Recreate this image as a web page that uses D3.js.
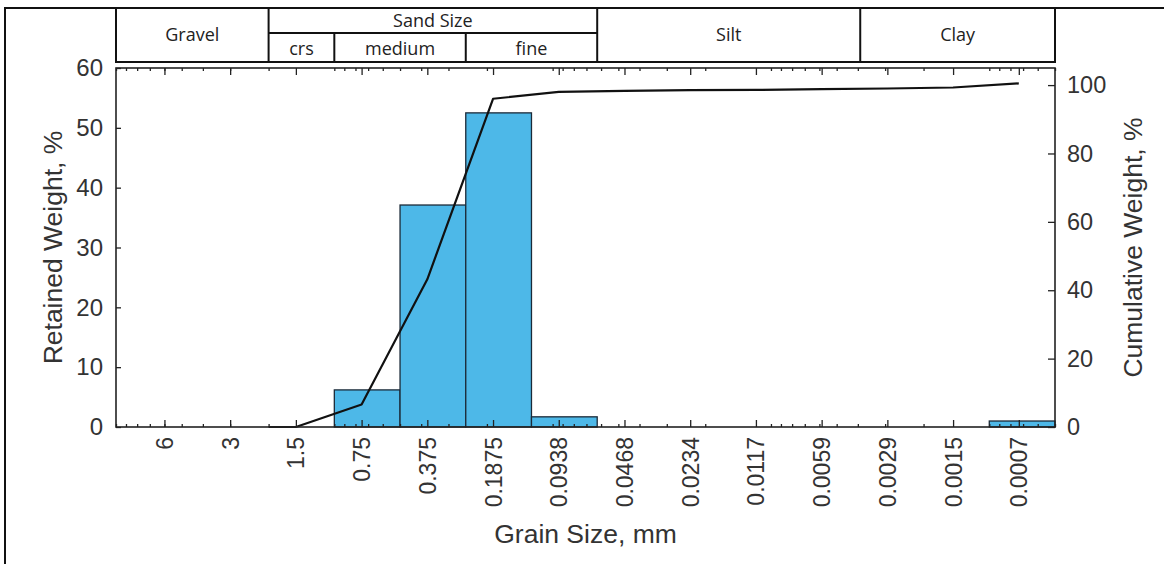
<!DOCTYPE html>
<html>
<head>
<meta charset="utf-8">
<script src="https://cdn.jsdelivr.net/npm/d3@7"></script>
<style>
  html, body { margin: 0; padding: 0; background: #fff; }
  svg { display: block; }
</style>
</head>
<body>
<svg id="chart" width="1164" height="564"></svg>
<script>
// ---------- data ----------
const grainSizes = [6, 3, 1.5, 0.75, 0.375, 0.1875, 0.09375, 0.046875, 0.0234375,
  0.01171875, 0.005859375, 0.0029296875, 0.00146484375, 0.000732421875];
const grainLabels = ["6", "3", "1.5", "0.75", "0.375", "0.1875", "0.0938", "0.0468",
  "0.0234", "0.0117", "0.0059", "0.0029", "0.0015", "0.0007"];

// retained weight bars (bin upper / lower size, mm)
const binUpper = [1, 0.5, 0.25, 0.125, 0.001];
const binLower = [0.5, 0.25, 0.125, 0.0625, 0.0005];
const retained = [6.2, 37.1, 52.5, 1.7, 1.0];

// cumulative weight curve
const cumSizes = [2, 1.5, 0.75, 0.375, 0.1875, 0.09375, 0.046875, 0.0234375,
  0.01171875, 0.005859375, 0.0029296875, 0.00146484375, 0.000732421875];
const cumulative = [0, 0, 6.6, 43.2, 96.0, 98.0, 98.3, 98.5, 98.6, 98.8, 99.0, 99.3, 100.5];

const leftTicks = [0, 10, 20, 30, 40, 50, 60];
const rightTicks = [0, 20, 40, 60, 80, 100];

// classification header
const classLabels = ["Gravel", "Sand Size", "Silt", "Clay"];
const classBounds = [10, 2, 0.0625, 0.0039, 0.0005];
const sandLabels = ["crs", "medium", "fine"];
const sandBounds = [2, 1, 0.25, 0.0625];

// ---------- layout ----------
const L = 116, R = 1055, T = 68, B = 427;
const svg = d3.select("#chart");
const axisFont = "'Liberation Sans', Arial, Helvetica, sans-serif";
const hdrFont = "'Open Sans', 'Noto Sans', sans-serif";
const txtColor = "#333";

const x = d3.scaleLog().domain([10, 0.0005]).range([L, R]);
const yL = d3.scaleLinear().domain([0, 60]).range([B, T]);
const yR = d3.scaleLinear().domain([0, 105]).range([B, T]);

// minor ticks 1..9 x 10^k
const minorTicks = [];
for (let k = -4; k <= 1; k++) {
  for (let m = 1; m <= 9; m++) {
    const v = m * Math.pow(10, k);
    if (v <= 10 && v >= 0.0005) minorTicks.push(v);
  }
}

// ---------- page border ----------
svg.append("path")
  .attr("d", `M5,564 L5,8 L1164,8`)
  .attr("fill", "none").attr("stroke", "#111").attr("stroke-width", 2);

// ---------- header table ----------
const hT = 8, hM = 33, hB = 62;
const hdr = svg.append("g");
hdr.append("rect").attr("x", x(10)).attr("y", hT)
  .attr("width", x(0.0005) - x(10)).attr("height", hB - hT)
  .attr("fill", "none").attr("stroke", "#111").attr("stroke-width", 2);
classBounds.slice(1, -1).forEach(b => {
  hdr.append("line").attr("x1", x(b)).attr("x2", x(b)).attr("y1", hT).attr("y2", hB)
    .attr("stroke", "#111").attr("stroke-width", 2);
});
hdr.append("line").attr("x1", x(sandBounds[0])).attr("x2", x(sandBounds[3]))
  .attr("y1", hM).attr("y2", hM).attr("stroke", "#111").attr("stroke-width", 2);
sandBounds.slice(1, -1).forEach(b => {
  hdr.append("line").attr("x1", x(b)).attr("x2", x(b)).attr("y1", hM).attr("y2", hB)
    .attr("stroke", "#111").attr("stroke-width", 2);
});
classLabels.forEach((lab, i) => {
  const cx = (x(classBounds[i]) + x(classBounds[i + 1])) / 2;
  const cy = lab === "Sand Size" ? (hT + hM) / 2 : (hT + hB) / 2;
  hdr.append("text").attr("x", cx).attr("y", cy).attr("dy", "0.35em")
    .attr("text-anchor", "middle").attr("font-family", hdrFont).attr("font-size", 18)
    .attr("fill", "#222").text(lab);
});
sandLabels.forEach((lab, i) => {
  const cx = (x(sandBounds[i]) + x(sandBounds[i + 1])) / 2;
  hdr.append("text").attr("x", cx).attr("y", (hM + hB) / 2 + 1).attr("dy", "0.35em")
    .attr("text-anchor", "middle").attr("font-family", hdrFont).attr("font-size", 18)
    .attr("fill", "#222").text(lab);
});

// ---------- bars ----------
svg.append("g").selectAll("rect")
  .data(retained)
  .join("rect")
  .attr("x", (d, i) => x(binUpper[i]))
  .attr("width", (d, i) => x(binLower[i]) - x(binUpper[i]))
  .attr("y", d => yL(d))
  .attr("height", d => yL(0) - yL(d))
  .attr("fill", "#4db8e8")
  .attr("stroke", "#1b2a38")
  .attr("stroke-width", 1.3);

// ---------- cumulative line ----------
const line = d3.line().x(d => x(d[0])).y(d => yR(d[1]));
svg.append("path")
  .datum(cumSizes.map((s, i) => [s, cumulative[i]]))
  .attr("d", line)
  .attr("fill", "none").attr("stroke", "#111").attr("stroke-width", 2.2)
  .attr("stroke-linejoin", "round");

// ---------- axes ----------
function styleAxis(g) {
  g.select(".domain").remove();
  g.selectAll(".tick line").attr("stroke", "#222").attr("stroke-width", 1.3);
  g.selectAll("text").attr("font-family", axisFont).attr("fill", txtColor);
}

svg.append("g").attr("transform", `translate(0,${B})`)
  .call(d3.axisBottom(x).tickValues(minorTicks).tickFormat("").tickSize(-3))
  .call(styleAxis);
svg.append("g").attr("transform", `translate(0,${T})`)
  .call(d3.axisTop(x).tickValues(minorTicks).tickFormat("").tickSize(-3))
  .call(styleAxis);
svg.append("g").attr("transform", `translate(0,${T})`)
  .call(d3.axisTop(x).tickValues(grainSizes).tickFormat("").tickSize(-7))
  .call(styleAxis);
const xAx = svg.append("g").attr("transform", `translate(0,${B})`)
  .call(d3.axisBottom(x).tickValues(grainSizes)
    .tickFormat((d, i) => grainLabels[i]).tickSize(-7))
  .call(styleAxis);
xAx.selectAll("text")
  .attr("transform", "rotate(-90)")
  .attr("x", -10).attr("y", 0).attr("dy", "0.35em")
  .attr("text-anchor", "end")
  .attr("font-size", 23);

svg.append("g").attr("transform", `translate(${L},0)`)
  .call(d3.axisLeft(yL).tickValues(leftTicks).tickSize(-5).tickPadding(13))
  .call(styleAxis)
  .selectAll("text").attr("font-size", 24);

svg.append("g").attr("transform", `translate(${R},0)`)
  .call(d3.axisRight(yR).tickValues(rightTicks).tickSize(-7).tickPadding(12))
  .call(styleAxis)
  .selectAll("text").attr("font-size", 23.5);

svg.append("rect").attr("x", L).attr("y", T).attr("width", R - L).attr("height", B - T)
  .attr("fill", "none").attr("stroke", "#222").attr("stroke-width", 1.6);

// ---------- titles ----------
svg.append("text")
  .attr("transform", `translate(62,${(T + B) / 2}) rotate(-90)`)
  .attr("text-anchor", "middle").attr("font-family", axisFont).attr("font-size", 26.5)
  .attr("fill", txtColor).text("Retained Weight, %");
svg.append("text")
  .attr("transform", `translate(1142,${(T + B) / 2}) rotate(-90)`)
  .attr("text-anchor", "middle").attr("font-family", axisFont).attr("font-size", 26.5)
  .attr("fill", txtColor).text("Cumulative Weight, %");
svg.append("text")
  .attr("x", (L + R) / 2).attr("y", 543)
  .attr("text-anchor", "middle").attr("font-family", axisFont).attr("font-size", 26.5)
  .attr("fill", txtColor).text("Grain Size, mm");
</script>
</body>
</html>
